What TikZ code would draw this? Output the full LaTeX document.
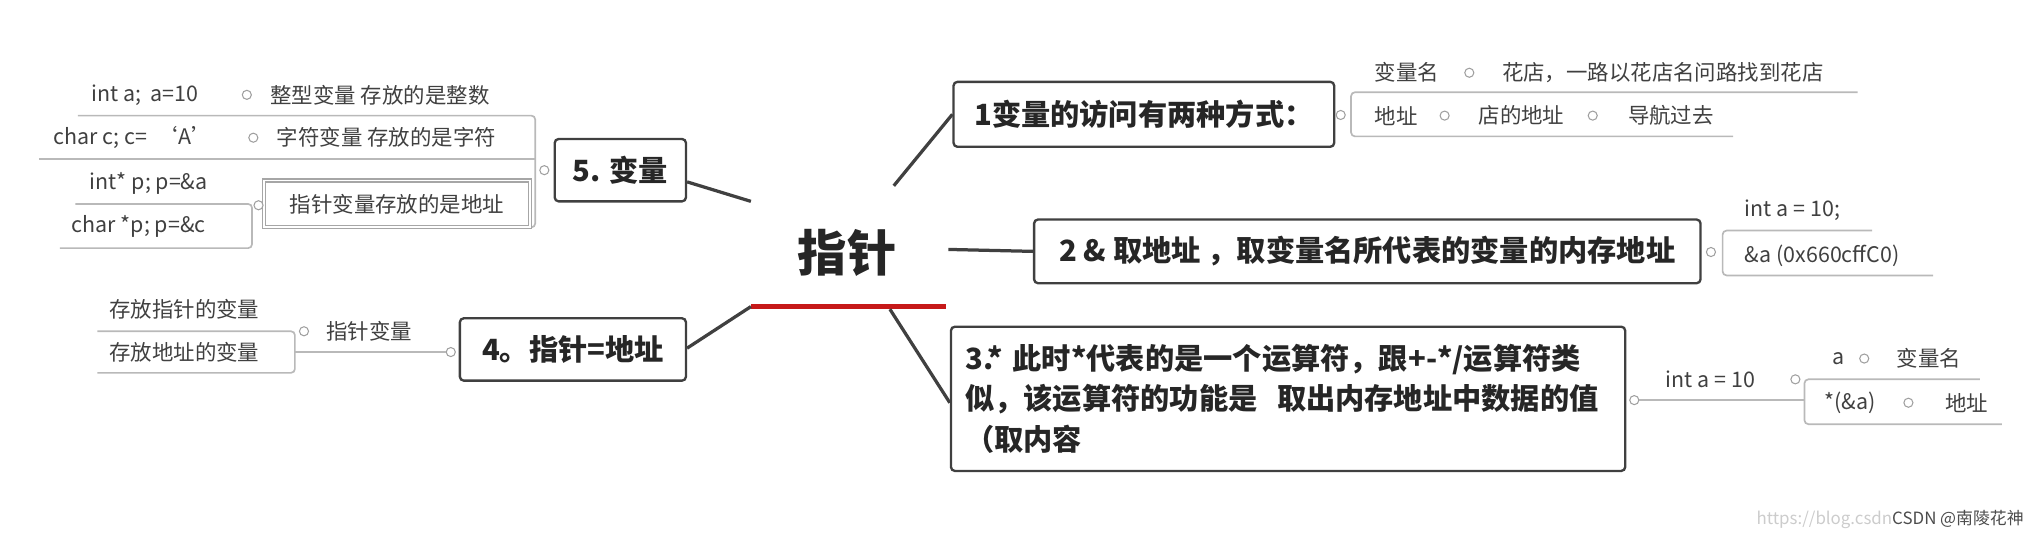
\documentclass[tikz,border=0pt]{standalone}
\usepackage{fontspec}
\setmainfont{Noto Sans CJK SC}
\begin{document}
\begin{tikzpicture}[x=1pt,y=-1pt,
  child/.style={font=\fontsize{16.5}{19}\selectfont, text=black!75, inner sep=0, anchor=west},
  dot/.style={circle, draw=gray!75, line width=0.8pt, minimum size=7pt, inner sep=0, fill=white},
  box/.style={draw=black!75, line width=1.8pt, rounded corners=3pt, fill=white, font=\bfseries\fontsize{22.5}{26}\selectfont, inner sep=0, text=black!85},
  uline/.style={draw=gray!55, line width=1.3pt, rounded corners=3pt},
  conn/.style={draw=black!75, line width=2.5pt}]
\useasboundingbox (0,0) rectangle (1568,414);
% centre
\node[font=\bfseries\fontsize{38}{42}\selectfont, text=black!85] (c) at (652,195) {指针};
\coordinate (r1) at (578,236); \coordinate (r2) at (728,236);
\draw[red!75!black!90, line width=4pt] (r1) -- (r2);
% main boxes
\node[box, minimum width=101pt, minimum height=48pt] (b5) at (477.5,131) {5. 变量};
\node[box, minimum width=174pt, minimum height=48pt] (b4) at (441,269) {4。指针=地址};
\node[box, minimum width=293pt, minimum height=50pt] (b1) at (880.5,88) {1变量的访问有两种方式：};
\node[box, minimum width=513pt, minimum height=49pt] (b2) at (1052.5,193.5) {2 \& 取地址 ，取变量名所代表的变量的内存地址};
\node[box, minimum width=519pt, minimum height=111pt, text width=497pt, align=left, font=\bfseries\fontsize{22.5}{31.5}\selectfont] (b3) at (991.5,307) {3.* 此时*代表的是一个运算符，跟+-*/运算符类\\似，该运算符的功能是\ \ 取出内存地址中数据的值\\（取内容};
% connectors from centre
\coordinate (k5) at (578,155); \coordinate (k4) at (578,236);
\coordinate (k1) at (688,143); \coordinate (k2) at (730,192); \coordinate (k3) at (685,238);
\draw[conn] (k5) -- (b5.east |- 0,140);
\draw[conn] (k4) -- (b4.east |- 0,268);
\draw[conn] (k1) -- (b1.west |- 0,88);
\draw[conn] (k2) -- (b2.west);
\draw[conn] (k3) -- (b3.west |- 0,310);
% ---- box 5 children
\coordinate (l5a) at (60,89); \coordinate (l5b) at (412,89); \coordinate (l5c) at (412,175); \coordinate (l5d) at (400,175);
\draw[uline] (l5a) -- (l5b) -- (l5c) -- (l5d);
\coordinate (l5e) at (30,122.6); \coordinate (l5f) at (412,122.6);
\draw[uline] (l5e) -- (l5f);
\node[child] (t51) at (70,73) {int a;\ \ a=10};
\node[dot] (d51) at (190,73) {};
\node[child] (t52) at (208,73) {整型变量\ 存放的是整数};
\node[child] (t53) at (41,106) {char c; c=\ \ ‘A’};
\node[dot] (d53) at (195,106) {};
\node[child] (t54) at (213,106) {字符变量 存放的是字符};
\node[dot] (d5) at (419,131) {};
\node[draw=gray!70, double=white, double distance=1.4pt, line width=0.9pt, minimum width=205pt, minimum height=36pt, inner sep=0, font=\fontsize{16.5}{19}\selectfont, text=black!75, fill=white] (pv) at (305.5,157) {指针变量存放的是地址};
\node[dot] (dpv) at (199,158) {};
\coordinate (l5g) at (58,157); \coordinate (l5h) at (194,157); \coordinate (l5i) at (194,191); \coordinate (l5j) at (46,191);
\draw[uline] (l5g) -- (l5h) -- (l5i) -- (l5j);
\node[child] (t55) at (69,141) {int* p; p=\&a};
\node[child] (t56) at (55,174) {char *p; p=\&c};
% ---- box 4 children
\coordinate (l4a) at (75,255); \coordinate (l4b) at (227,255); \coordinate (l4c) at (227,287); \coordinate (l4d) at (75,287);
\draw[uline] (l4a) -- (l4b) -- (l4c) -- (l4d);
\coordinate (l4e) at (227,271);
\node[dot] (d4) at (347,271) {};
\draw[uline] (l4e) -- (d4);
\node[dot] (d4b) at (234,255) {};
\node[child] (t41) at (84,238) {存放指针的变量};
\node[child] (t42) at (84,271) {存放地址的变量};
\node[child] (t43) at (251,255) {指针变量};
% ---- box 1 children
\coordinate (l1a) at (1430,71); \coordinate (l1b) at (1040,71); \coordinate (l1c) at (1040,105); \coordinate (l1d) at (1334,105);
\draw[uline] (l1a) -- (l1b) -- (l1c) -- (l1d);
\node[dot] (d1) at (1032,88.5) {};
\node[child] (t11) at (1058,56) {变量名};
\node[dot] (d11) at (1131,56) {};
\node[child] (t12) at (1156,56) {花店，一路以花店名问路找到花店};
\node[child] (t13) at (1058,89) {地址};
\node[dot] (d13) at (1112,89) {};
\node[child] (t14) at (1138,89) {店的地址};
\node[dot] (d14) at (1226,89) {};
\node[child] (t15) at (1253,89) {导航过去};
% ---- box 2 children
\coordinate (l2a) at (1441,177.5); \coordinate (l2b) at (1326,177.5); \coordinate (l2c) at (1326,212); \coordinate (l2d) at (1488,212);
\draw[uline] (l2a) -- (l2b) -- (l2c) -- (l2d);
\node[dot] (d2) at (1317,194) {};
\node[child] (t21) at (1343,162) {int a = 10;};
\node[child] (t22) at (1343,197) {\&a (0x660cffC0)};
% ---- box 3 children
\node[dot] (d3) at (1258,308) {};
\coordinate (l3a) at (1389,308);
\draw[uline] (d3) -- (l3a);
\node[child] (t31) at (1282,292) {int a = 10};
\node[dot] (d31) at (1382,292) {};
\coordinate (l3b) at (1524,292); \coordinate (l3c) at (1389,292); \coordinate (l3d) at (1389,326.5); \coordinate (l3e) at (1541,326.5);
\draw[uline] (l3b) -- (l3c) -- (l3d) -- (l3e);
\node[child] (t32) at (1410,276) {a};
\node[dot] (d32) at (1435,276) {};
\node[child] (t33) at (1460,276) {变量名};
\node[child] (t34) at (1404,310) {*(\&a)};
\node[dot] (d34) at (1469,310) {};
\node[child] (t35) at (1497,310) {地址};
% watermark
\node[anchor=east, inner sep=0, font=\fontsize{13}{15}\selectfont] (wm) at (1558,400) {\textcolor{gray!40}{https://blog.csdn}\textcolor{black!70}{CSDN @南陵花神}};
\end{tikzpicture}
\end{document}
